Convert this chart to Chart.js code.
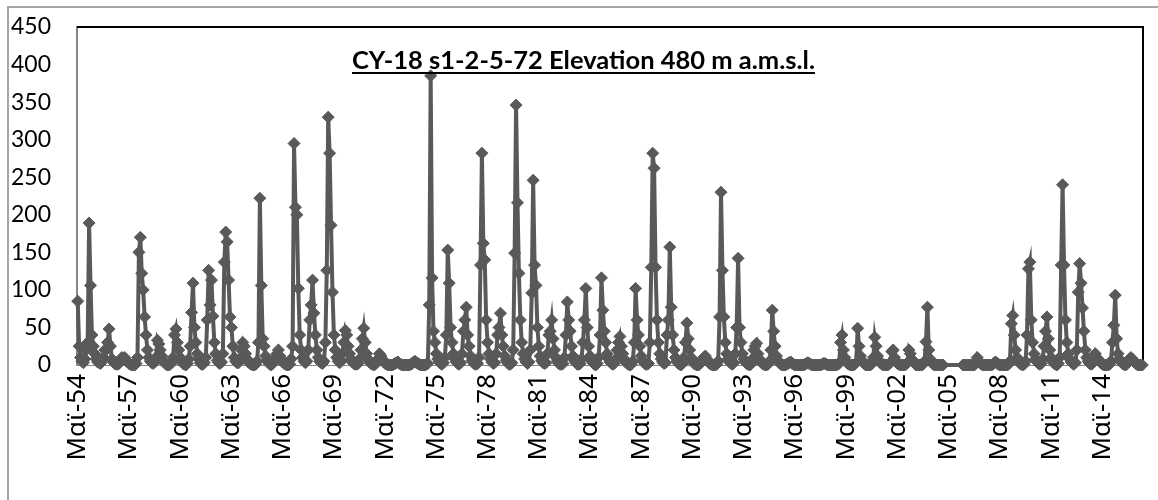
<!DOCTYPE html>
<html>
<head>
<meta charset="utf-8">
<script src="https://cdn.jsdelivr.net/npm/chart.js@4"></script>
<style>
  body { margin: 0; background: #fff; }
  #wrap { position: relative; width: 1158px; height: 500px; overflow: hidden; }
  #frame { position: absolute; left: 7px; top: 6px; width: 1200px; height: 600px; border: 2px solid #a6a6a6; box-sizing: border-box; }
  #title { position: absolute; left: 352px; top: 47px; font: bold 25.5px Lato, sans-serif; line-height: 1; text-decoration: underline; text-decoration-thickness: 2px; text-underline-offset: 3px; white-space: nowrap; color: #000; }
</style>
</head>
<body>
<div id="wrap">
  <div id="frame"></div>
  <canvas id="myChart"></canvas>
  <div id="title">CY-18 s1-2-5-72 Elevation 480 m a.m.s.l.</div>
</div>
<script>
// monthly series, starts May 1954
var startYear = 1954;
var startMonth = 4; // May
var monthNames = ['Ιαν', 'Φεβ', 'Μαρ', 'Απρ', 'Μαϊ', 'Ιουν', 'Ιουλ', 'Αυγ', 'Σεπ', 'Οκτ', 'Νοε', 'Δεκ'];
var tickLabels = ['Μαϊ-54', 'Μαϊ-57', 'Μαϊ-60', 'Μαϊ-63', 'Μαϊ-66', 'Μαϊ-69', 'Μαϊ-72', 'Μαϊ-75', 'Μαϊ-78',
    'Μαϊ-81', 'Μαϊ-84', 'Μαϊ-87', 'Μαϊ-90', 'Μαϊ-93', 'Μαϊ-96', 'Μαϊ-99', 'Μαϊ-02', 'Μαϊ-05', 'Μαϊ-08',
    'Μαϊ-11', 'Μαϊ-14'];
var yTicks = [0, 50, 100, 150, 200, 250, 300, 350, 400, 450];

var values = [
    85, 25, 10, 5, 3, 8, 20, 30,                         // 1954 (May-Dec)
    189, 106, 40, 25, 15, 8, 4, 3, 2, 5, 10, 20,         // 1955
    20, 30, 48, 25, 8, 4, 2, 1, 1, 2, 5, 10,             // 1956
    8, 10, 6, 4, 2, 1, 0, 0, 0, 2, 10, 150,              // 1957
    170, 122, 100, 64, 40, 20, 10, 5, 3, 2, 4, 10,       // 1958
    33, 28, 20, 12, 6, 3, 1, 0, 0, 1, 3, 10,             // 1959
    40, 48, 30, 20, 10, 5, 2, 1, 0, 2, 8, 25,            // 1960
    70, 109, 50, 30, 15, 8, 3, 1, 1, 3, 10, 60,          // 1961
    126, 80, 113, 65, 30, 15, 6, 3, 2, 4, 15, 137,       // 1962
    177, 164, 113, 64, 50, 25, 10, 5, 3, 3, 8, 20,       // 1963
    30, 25, 15, 8, 4, 2, 1, 0, 0, 1, 5, 30,              // 1964
    222, 106, 35, 25, 12, 6, 3, 1, 0, 2, 5, 10,          // 1965
    15, 20, 12, 8, 4, 2, 1, 0, 0, 1, 8, 25,              // 1966
    295, 210, 200, 102, 40, 20, 10, 5, 3, 5, 20, 60,     // 1967
    80, 113, 69, 40, 20, 10, 5, 3, 2, 5, 30, 126,        // 1968
    330, 282, 186, 97, 40, 20, 10, 5, 3, 5, 15, 30,      // 1969
    46, 40, 25, 15, 8, 4, 2, 1, 1, 2, 8, 20,             // 1970
    35, 49, 30, 15, 8, 4, 2, 1, 0, 1, 3, 8,              // 1971
    15, 12, 8, 4, 2, 1, 0, 0, 0, 0, 1, 2,                // 1972
    3, 4, 2, 1, 0, 0, 0, 0, 0, 0, 1, 2,                  // 1973
    4, 5, 3, 2, 1, 0, 0, 0, 0, 1, 2, 80,                 // 1974
    385, 116, 45, 30, 15, 8, 4, 2, 1, 3, 10, 40,         // 1975
    153, 109, 50, 30, 15, 8, 4, 2, 1, 3, 15, 45,         // 1976
    60, 77, 40, 25, 12, 6, 3, 1, 1, 2, 10, 133,          // 1977
    282, 162, 140, 60, 30, 15, 8, 4, 2, 3, 15, 40,       // 1978
    50, 69, 40, 25, 12, 6, 3, 1, 1, 3, 20, 149,          // 1979
    346, 216, 122, 60, 30, 15, 8, 4, 2, 4, 20, 96,       // 1980
    246, 133, 106, 50, 25, 12, 6, 3, 2, 3, 15, 40,       // 1981
    45, 60, 35, 20, 10, 5, 2, 1, 1, 2, 10, 40,           // 1982
    84, 60, 45, 25, 12, 6, 3, 1, 1, 2, 8, 30,            // 1983
    60, 102, 50, 25, 12, 6, 3, 1, 0, 2, 10, 40,          // 1984
    116, 73, 45, 30, 15, 8, 4, 2, 1, 2, 8, 20,           // 1985
    30, 38, 25, 15, 8, 4, 2, 1, 0, 1, 5, 30,             // 1986
    102, 60, 40, 25, 12, 6, 3, 1, 1, 2, 30, 130,         // 1987
    282, 262, 130, 60, 30, 15, 8, 4, 2, 3, 40, 60,       // 1988
    157, 77, 40, 20, 10, 5, 2, 1, 0, 2, 10, 30,          // 1989
    56, 35, 20, 10, 5, 2, 1, 0, 0, 1, 3, 8,              // 1990
    10, 12, 8, 5, 2, 1, 0, 0, 0, 1, 5, 64,               // 1991
    230, 126, 64, 30, 15, 8, 4, 2, 1, 3, 15, 50,         // 1992
    142, 50, 30, 15, 8, 4, 2, 1, 0, 1, 8, 20,            // 1993
    25, 29, 15, 8, 4, 2, 1, 0, 0, 1, 5, 20,              // 1994
    73, 45, 25, 12, 6, 3, 1, 0, 0, 0, 1, 2,              // 1995
    3, 4, 2, 1, 0, 0, 0, 0, 0, 0, 0, 1,                  // 1996
    2, 3, 2, 1, 0, 0, 0, 0, 0, 0, 0, 1,                  // 1997
    2, 2, 1, 0, 0, 0, 0, 0, 0, 0, 1, 2,                  // 1998
    30, 40, 20, 10, 5, 2, 1, 0, 0, 0, 1, 3,              // 1999
    49, 25, 12, 6, 3, 1, 0, 0, 0, 0, 2, 10,              // 2000
    37, 25, 12, 6, 3, 1, 0, 0, 0, 0, 1, 3,               // 2001
    18, 20, 10, 5, 2, 1, 0, 0, 0, 0, 1, 3,               // 2002
    20, 15, 8, 4, 2, 0, 0, 0, 0, 0, 1, 5,                // 2003
    31, 77, 20, 8, 3, 1, 0, 0, 0, 0, 0, 0,               // 2004
    0, null, null, null, null, null, null, null, null, null, null, null, // 2005
    null, null, 0, 0, 0, 0, 0, 0, 0, 0, 0, 2,            // 2006
    10, 5, 3, 1, 0, 0, 0, 0, 0, 0, 0, 1,                 // 2007
    3, 4, 2, 1, 0, 0, 0, 0, 0, 0, 1, 5,                  // 2008
    55, 66, 40, 20, 10, 5, 2, 1, 0, 1, 5, 40,            // 2009
    128, 137, 60, 30, 15, 8, 4, 2, 1, 2, 8, 25,          // 2010
    45, 64, 35, 20, 10, 5, 2, 1, 0, 2, 10, 133,          // 2011
    240, 133, 60, 30, 15, 8, 4, 2, 1, 3, 20, 97,         // 2012
    135, 109, 76, 45, 20, 10, 5, 2, 1, 2, 5, 15,         // 2013
    10, 8, 5, 3, 1, 0, 0, 0, 0, 1, 5, 30,                // 2014
    53, 93, 35, 15, 8, 4, 2, 1, 0, 1, 3, 8,              // 2015
    10, 8, 5, 3, 1, 0, 0, 0, 0                           // 2016 (Jan-Sep)
];

var categories = [];
for (var i = 0; i < values.length; i++) {
    var m = (startMonth + i) % 12;
    var y = startYear + Math.floor((startMonth + i) / 12);
    categories.push(monthNames[m] + '-' + String(y).slice(2));
}

// black plot area border (top and right), like the excel plot frame
var plotFrame = {
    id: 'plotFrame',
    beforeDatasetsDraw: function (chart) {
        var a = chart.chartArea;
        var ctx = chart.ctx;
        ctx.save();
        ctx.strokeStyle = '#000';
        ctx.lineWidth = 2;
        ctx.beginPath();
        ctx.moveTo(a.left, a.top);
        ctx.lineTo(a.right, a.top);
        ctx.lineTo(a.right, a.bottom);
        ctx.stroke();
        ctx.restore();
    }
};

var ctx = document.getElementById('myChart').getContext('2d');
var myChart = new Chart(ctx, {
    type: 'line',
    data: {
        labels: categories,
        datasets: [{
            data: values,
            borderColor: '#595959',
            backgroundColor: '#595959',
            borderWidth: 4,
            pointStyle: 'rectRot',
            pointRadius: 6,
            pointBorderWidth: 1,
            pointBorderColor: '#595959',
            pointBackgroundColor: '#595959',
            tension: 0,
            spanGaps: true,
            clip: false
        }]
    },
    options: {
        responsive: true,
        maintainAspectRatio: false,
        animation: false,
        layout: { padding: { top: 27, right: 15, left: 0, bottom: 0 } },
        plugins: {
            legend: { display: false },
            tooltip: { enabled: false }
        },
        scales: {
            x: {
                type: 'category',
                offset: true,
                grid: { display: false, drawTicks: false },
                border: { display: true, color: '#868686', width: 1 },
                ticks: {
                    autoSkip: false,
                    minRotation: 90,
                    maxRotation: 90,
                    padding: 9,
                    color: '#000',
                    font: { family: '"Noto Sans", sans-serif', size: 26 },
                    callback: function (val, index) {
                        if (index % 36 !== 0) return null;
                        return tickLabels[index / 36];
                    }
                },
                afterFit: function (scale) {
                    scale.height = 135;
                    scale.paddingLeft = 0;
                    scale.paddingRight = 0;
                }
            },
            y: {
                min: 0,
                max: 450,
                grid: { display: false, drawTicks: false },
                border: { display: true, color: '#868686', width: 2 },
                afterBuildTicks: function (scale) {
                    scale.ticks = yTicks.map(function (v) { return { value: v }; });
                },
                ticks: {
                    padding: 26,
                    color: '#000',
                    font: { family: 'Lato, sans-serif', size: 23 }
                },
                afterFit: function (scale) {
                    scale.width = 77;
                    scale.paddingTop = 0;
                    scale.paddingBottom = 0;
                }
            }
        }
    },
    plugins: [plotFrame]
});

myChart.canvas.parentNode.style.width = '1158px';
myChart.canvas.parentNode.style.height = '500px';
</script>
</body>
</html>
